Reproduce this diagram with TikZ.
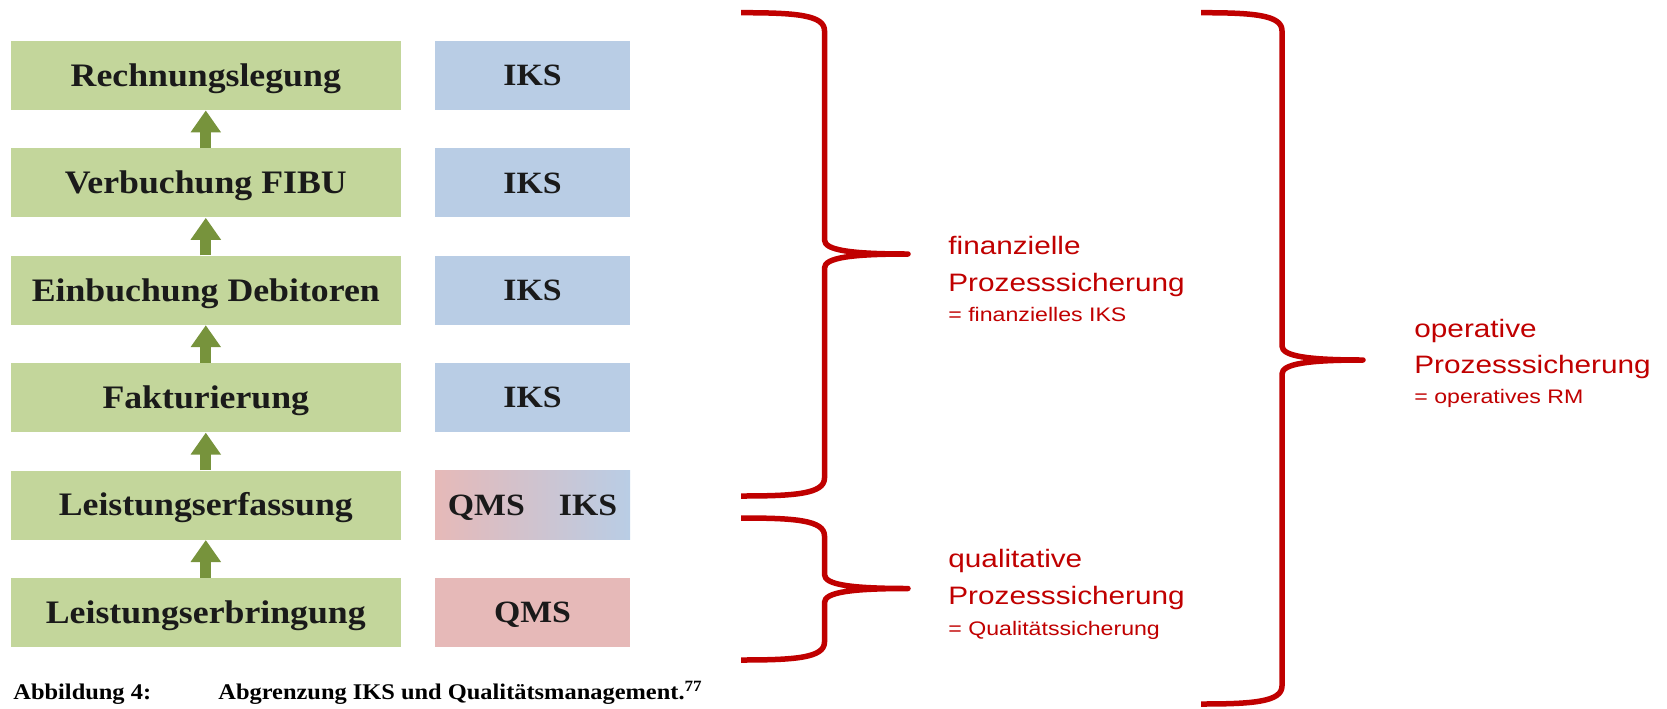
\documentclass[tikz,border=0pt]{standalone}
\usepackage{fontspec}
\setmainfont{Liberation Serif}
\newfontfamily\boxf[FakeStretch=1.09]{Liberation Serif}
\newfontfamily\redf[FakeStretch=1.18]{Liberation Sans}
\usetikzlibrary{arrows.meta}
\definecolor{boxgreen}{HTML}{C3D69B}
\definecolor{boxblue}{HTML}{B9CDE5}
\definecolor{boxpink}{HTML}{E6B9B8}
\definecolor{arrowgreen}{HTML}{77933C}
\definecolor{bracered}{HTML}{C00000}
\definecolor{txtdark}{HTML}{1A1A1A}
\newcommand\bracepath[6]{%
  (#1,#4) .. controls ({#2-30},#4) and (#2,{#4+2}) .. (#2,{#4+18})
  -- (#2,{#5-14}) .. controls (#2,{#5-4}) and ({#2+25},#5) .. (#3,#5)
  .. controls ({#2+25},#5) and (#2,{#5+4}) .. (#2,{#5+14})
  -- (#2,{#6-18}) .. controls (#2,{#6-2}) and ({#2-30},#6) .. (#1,#6)}
\tikzset{
  proc/.style={fill=boxgreen, minimum width=195.2pt, minimum height=34.5pt, inner sep=0pt,
    text height=10.8pt, text depth=0pt,
    text=txtdark, font=\boxf\bfseries\fontsize{16.4}{18}\selectfont},
  ctl/.style={minimum width=97.5pt, minimum height=34.5pt, inner sep=0pt,
    text height=10.2pt, text depth=0pt,
    text=txtdark, font=\boxf\bfseries\fontsize{15.5}{18}\selectfont},
  flow/.style={draw=arrowgreen, line width=5.5pt, -{Triangle[width=14.5pt,length=11pt]}},
  bracestyle/.style={draw=bracered, line width=2.75pt, line join=round},
  redbig/.style={text=bracered, anchor=base west, inner sep=0pt, font=\redf\fontsize{12.6}{15}\selectfont},
  redsmall/.style={text=bracered, anchor=base west, inner sep=0pt, font=\redf\fontsize{9.8}{12}\selectfont},
  captxt/.style={text=black, anchor=base west, inner sep=0pt, font=\boxf\bfseries\fontsize{11.2}{13}\selectfont}
}
\begin{document}
\begin{tikzpicture}[x=0.5pt, y=-0.5pt]
\useasboundingbox (0,0) rectangle (1667,708);
% process boxes
\node[proc] (b1) at (205.8,75.5)  {Rechnungslegung};
\node[proc] (b2) at (205.8,182.9) {Verbuchung FIBU};
\node[proc] (b3) at (205.8,290.3) {Einbuchung Debitoren};
\node[proc] (b4) at (205.8,397.7) {Fakturierung};
\node[proc] (b5) at (205.8,505.1) {Leistungserfassung};
\node[proc] (b6) at (205.8,612.5) {Leistungserbringung};
% control boxes
\node[ctl, fill=boxblue] (c1) at (532.5,75.5)  {IKS};
\node[ctl, fill=boxblue] (c2) at (532.5,182.9) {IKS};
\node[ctl, fill=boxblue] (c3) at (532.5,290.3) {IKS};
\node[ctl, fill=boxblue] (c4) at (532.5,397.7) {IKS};
\node[ctl, left color=boxpink, right color=boxblue] (c5) at (532.5,505.1) {QMS\hspace{17pt}IKS};
\node[ctl, fill=boxpink] (c6) at (532.5,612.5) {QMS};
% arrows
\draw[flow] (b2.north) -- (b1.south);
\draw[flow] (b3.north) -- (b2.south);
\draw[flow] (b4.north) -- (b3.south);
\draw[flow] (b5.north) -- (b4.south);
\draw[flow] (b6.north) -- (b5.south);
% braces
\draw[bracestyle] \bracepath{741}{824.5}{908}{12.7}{254}{496};
\draw[bracestyle] \bracepath{741}{824.5}{908}{518}{588.5}{660};
\draw[bracestyle] \bracepath{1201}{1282}{1363}{12.7}{360}{704};
% labels
\node[redbig] (f1) at (948,254.5) {finanzielle};
\node[redbig] (f2) at (948,291) {Prozesssicherung};
\node[redsmall] (f3) at (948,321) {= finanzielles IKS};
\node[redbig] (q1) at (948,567.5) {qualitative};
\node[redbig] (q2) at (948,604.5) {Prozesssicherung};
\node[redsmall] (q3) at (948,635) {= Qualitätssicherung};
\node[redbig] (o1) at (1414,337) {operative};
\node[redbig] (o2) at (1414,373) {Prozesssicherung};
\node[redsmall] (o3) at (1414,403.5) {= operatives RM};
% caption
\node[captxt] (cap1) at (13,699) {Abbildung 4:};
\node[captxt] (cap2) at (218,699) {Abgrenzung IKS und Qualitätsmanagement.\textsuperscript{77}};
\end{tikzpicture}
\end{document}
